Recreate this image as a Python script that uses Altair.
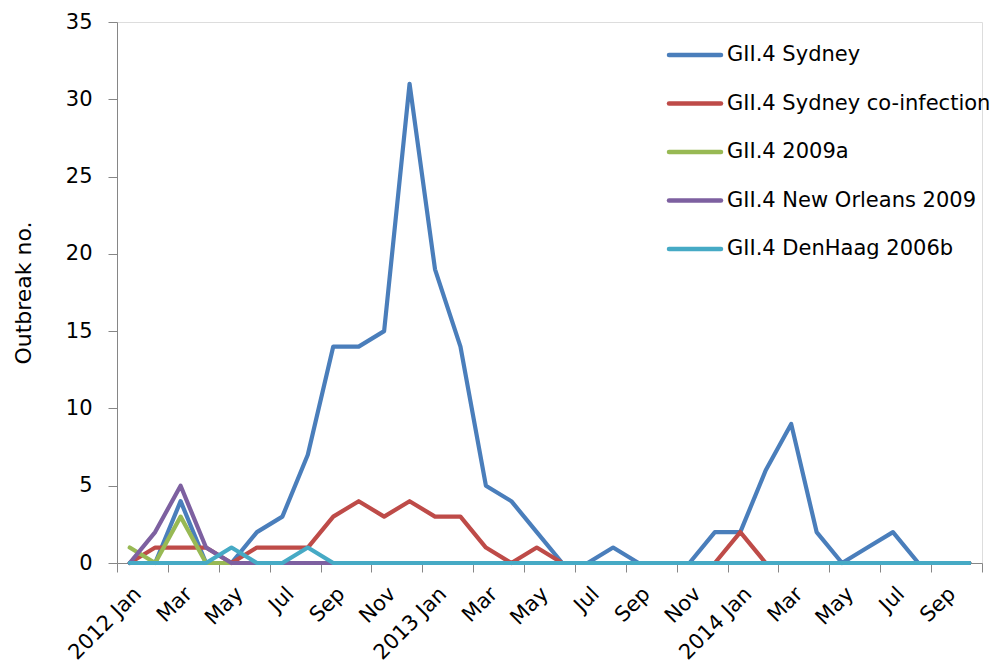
import altair as alt
import pandas as pd

years = [2012, 2013, 2014]
month_names = ["Jan", "Feb", "Mar", "Apr", "May", "Jun", "Jul", "Aug", "Sep", "Oct", "Nov", "Dec"]
months = [f"{y} {m}" for y in years for m in month_names][:34]

series_names = [
    "GII.4 Sydney",
    "GII.4 Sydney co-infection",
    "GII.4 2009a",
    "GII.4 New Orleans 2009",
    "GII.4 DenHaag 2006b",
]

sydney = [0, 0, 4, 0, 0, 2, 3, 7, 14, 14, 15, 31,
          19, 14, 5, 4, 2, 0, 0, 1, 0, 0, 0, 2,
          2, 6, 9, 2, 0, 1, 2, 0, 0, 0]
sydney_coinf = [0, 1, 1, 1, 0, 1, 1, 1, 3, 4, 3, 4,
                3, 3, 1, 0, 1, 0, 0, 0, 0, 0, 0, 0,
                2, 0, 0, 0, 0, 0, 0, 0, 0, 0]
g2009a = [1, 0, 3, 0, 0, 0, 0, 0, 0, 0, 0, 0,
          0, 0, 0, 0, 0, 0, 0, 0, 0, 0, 0, 0,
          0, 0, 0, 0, 0, 0, 0, 0, 0, 0]
new_orleans = [0, 2, 5, 1, 0, 0, 0, 0, 0, 0, 0, 0,
               0, 0, 0, 0, 0, 0, 0, 0, 0, 0, 0, 0,
               0, 0, 0, 0, 0, 0, 0, 0, 0, 0]
denhaag = [0, 0, 0, 0, 1, 0, 0, 1, 0, 0, 0, 0,
           0, 0, 0, 0, 0, 0, 0, 0, 0, 0, 0, 0,
           0, 0, 0, 0, 0, 0, 0, 0, 0, 0]

series_values = [sydney, sydney_coinf, g2009a, new_orleans, denhaag]
colors = ["#4A7EBB", "#BE4B48", "#98B954", "#7D60A0", "#46AAC5"]

# long table: category centre = month index + 0.5
rows = []
for s_i, (name, vals) in enumerate(zip(series_names, series_values)):
    for i, (m, v) in enumerate(zip(months, vals)):
        rows.append({"month": m, "pos": i + 0.5, "series": name, "order": s_i, "count": v})
df = pd.DataFrame(rows)

# tick labels every other month
tick_rows = []
for i, m in enumerate(months):
    if i % 2 == 0:
        lbl = m if m.endswith("Jan") else m[5:]
        tick_rows.append({"pos": i + 0.5, "label": lbl})
tick_df = pd.DataFrame(tick_rows)

legend_df = pd.DataFrame({"series": series_names, "rank": list(range(len(series_names)))})

FONT = "DejaVu Sans"
AXIS_COLOR = "#868686"
N = len(months)

x_scale = alt.Scale(domain=[0, N], nice=False, zero=False)
color_scale = alt.Scale(domain=series_names, range=colors)

lines = (
    alt.Chart(df)
    .mark_line(strokeWidth=4.2, strokeCap="round", strokeJoin="round")
    .encode(
        x=alt.X(
            "pos:Q",
            scale=x_scale,
            axis=alt.Axis(
                values=list(range(N + 1)),
                labels=False,
                title=None,
                grid=False,
                tickSize=9,
                tickColor=AXIS_COLOR,
                domainColor=AXIS_COLOR,
            ),
        ),
        y=alt.Y(
            "count:Q",
            scale=alt.Scale(domain=[0, 35], nice=False),
            axis=alt.Axis(
                values=list(range(0, 36, 5)),
                grid=False,
                tickSize=9,
                tickColor=AXIS_COLOR,
                domainColor=AXIS_COLOR,
                labelFont=FONT,
                labelFontSize=21,
                labelColor="#000000",
                labelPadding=16,
                title="Outbreak no.",
                titleFont=FONT,
                titleFontSize=22,
                titleFontWeight="normal",
                titleColor="#000000",
                titlePadding=30,
            ),
        ),
        color=alt.Color("series:N", sort=series_names, scale=color_scale, legend=None),
        detail="order:O",
    )
)

tick_labels = (
    alt.Chart(tick_df)
    .mark_text(angle=315, align="right", baseline="top", font=FONT, fontSize=21,
               color="#000000", dx=1)
    .encode(x=alt.X("pos:Q", scale=x_scale), y=alt.value(562), text="label:N")
)

legend_y = alt.Y("rank:O", axis=None,
                 scale=alt.Scale(type="point", domain=list(range(5)), range=[33, 227],
                                 padding=0))

legend_lines = (
    alt.Chart(legend_df)
    .mark_rule(strokeWidth=4.5, strokeCap="round")
    .encode(
        x=alt.value(552),
        x2=alt.value(604),
        y=legend_y,
        color=alt.Color("series:N", scale=color_scale, legend=None),
    )
)

legend_text = (
    alt.Chart(legend_df)
    .mark_text(align="left", baseline="middle", font=FONT, fontSize=21, color="#000000")
    .encode(x=alt.value(610), y=legend_y, text="series:N")
)

chart = (
    alt.layer(lines, tick_labels, legend_lines, legend_text)
    .resolve_scale(y="independent")
    .properties(
        width=865,
        height=541,
        autosize=alt.AutoSizeParams(type="none"),
        padding={"left": 117, "top": 22, "right": 17, "bottom": 102},
    )
    .configure_view(stroke=None)
    .configure(background="#ffffff")
)

chart.save("out.html", embed_options={"renderer": "svg", "actions": False})
